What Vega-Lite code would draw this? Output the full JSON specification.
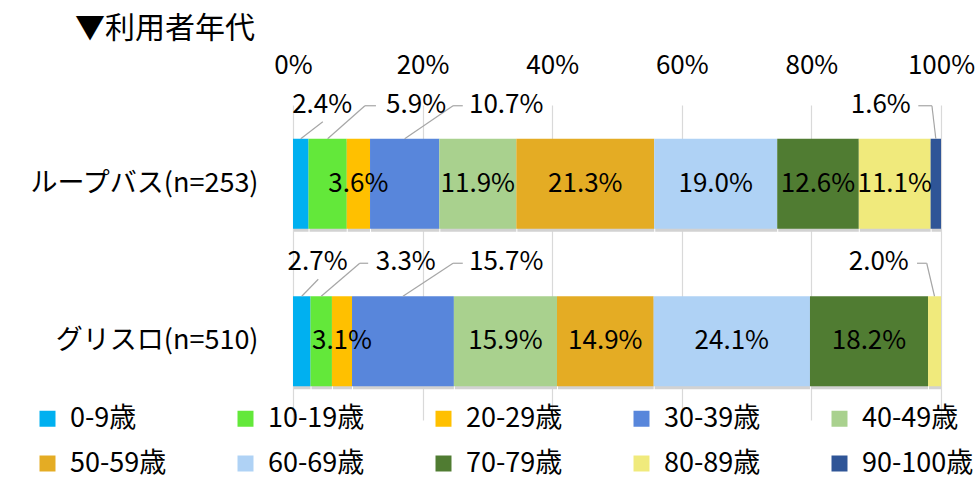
{
  "$schema": "https://vega.github.io/schema/vega-lite/v6.json",
  "width": 648,
  "height": 315,
  "autosize": "none",
  "padding": {"left": 293, "top": 105, "right": 34, "bottom": 61},
  "background": "white",
  "config": {
    "font": "Noto Sans CJK JP",
    "view": {"stroke": null},
    "axis": {"labelColor": "#000000", "labelFont": "Noto Sans CJK JP"}
  },
  "title": {
    "text": "▼利用者年代",
    "anchor": "start",
    "frame": "group",
    "fontSize": 30,
    "fontWeight": "normal",
    "color": "#000000",
    "dx": -218,
    "offset": 8
  },
  "data": {
    "values": [
      {"group": "ループバス(n=253)", "age": "0-9歳", "order": 1, "pct": 2.4, "pos": "out", "kind": "under", "elbow": 0.046, "hook": 0.046, "lx": 0.045},
      {"group": "ループバス(n=253)", "age": "10-19歳", "order": 2, "pct": 5.9, "pos": "out", "kind": "side", "elbow": 0.111, "hook": 0.128, "lx": 0.19},
      {"group": "ループバス(n=253)", "age": "20-29歳", "order": 3, "pct": 3.6, "pos": "in"},
      {"group": "ループバス(n=253)", "age": "30-39歳", "order": 4, "pct": 10.7, "pos": "out", "kind": "side", "elbow": 0.247, "hook": 0.262, "lx": 0.329},
      {"group": "ループバス(n=253)", "age": "40-49歳", "order": 5, "pct": 11.9, "pos": "in"},
      {"group": "ループバス(n=253)", "age": "50-59歳", "order": 6, "pct": 21.3, "pos": "in"},
      {"group": "ループバス(n=253)", "age": "60-69歳", "order": 7, "pct": 19.0, "pos": "in"},
      {"group": "ループバス(n=253)", "age": "70-79歳", "order": 8, "pct": 12.6, "pos": "in"},
      {"group": "ループバス(n=253)", "age": "80-89歳", "order": 9, "pct": 11.1, "pos": "in"},
      {"group": "ループバス(n=253)", "age": "90-100歳", "order": 10, "pct": 1.6, "pos": "out", "kind": "side", "elbow": 0.986, "hook": 0.965, "lx": 0.907},
      {"group": "グリスロ(n=510)", "age": "0-9歳", "order": 1, "pct": 2.7, "pos": "out", "kind": "under", "elbow": 0.039, "hook": 0.039, "lx": 0.038},
      {"group": "グリスロ(n=510)", "age": "10-19歳", "order": 2, "pct": 3.3, "pos": "out", "kind": "side", "elbow": 0.103, "hook": 0.116, "lx": 0.174},
      {"group": "グリスロ(n=510)", "age": "20-29歳", "order": 3, "pct": 3.1, "pos": "in"},
      {"group": "グリスロ(n=510)", "age": "30-39歳", "order": 4, "pct": 15.7, "pos": "out", "kind": "side", "elbow": 0.247, "hook": 0.262, "lx": 0.329},
      {"group": "グリスロ(n=510)", "age": "40-49歳", "order": 5, "pct": 15.9, "pos": "in"},
      {"group": "グリスロ(n=510)", "age": "50-59歳", "order": 6, "pct": 14.9, "pos": "in"},
      {"group": "グリスロ(n=510)", "age": "60-69歳", "order": 7, "pct": 24.1, "pos": "in"},
      {"group": "グリスロ(n=510)", "age": "70-79歳", "order": 8, "pct": 18.2, "pos": "in"},
      {"group": "グリスロ(n=510)", "age": "80-89歳", "order": 9, "pct": 2.0, "pos": "out", "kind": "side", "elbow": 0.978, "hook": 0.963, "lx": 0.904},
      {"group": "グリスロ(n=510)", "age": "90-100歳", "order": 10, "pct": 0, "pos": "none"}
    ]
  },
  "transform": [
    {"stack": "pct", "groupby": ["group"], "sort": [{"field": "order"}], "offset": "normalize", "as": ["x0", "x1"]},
    {"calculate": "(datum.x0 + datum.x1) / 2", "as": "mid"},
    {"calculate": "format(datum.pct, '.1f') + '%'", "as": "label"}
  ],
  "encoding": {
    "y": {
      "field": "group",
      "type": "nominal",
      "sort": ["ループバス(n=253)", "グリスロ(n=510)"],
      "scale": {"domain": ["ループバス(n=253)", "グリスロ(n=510)"], "paddingInner": 0.43, "paddingOuter": 0.215},
      "axis": {"title": null, "domain": false, "ticks": false, "tickSize": 0, "labelFontSize": 27, "labelPadding": 35, "labelLimit": 0, "grid": false}
    }
  },
  "layer": [
    {
      "transform": [{"filter": "datum.pct > 0"}],
      "mark": {"type": "bar", "color": "#D2D2D2", "yOffset": 3, "xOffset": 1},
      "encoding": {
        "x": {
          "field": "x0",
          "type": "quantitative",
          "scale": {"domain": [0, 1], "nice": false},
          "axis": {
            "orient": "top",
            "title": null,
            "format": ".0%",
            "values": [0, 0.2, 0.4, 0.6, 0.8, 1],
            "domain": false,
            "ticks": false,
            "tickSize": 0,
            "labelFontSize": 26,
            "labelPadding": 27,
            "labelFlush": false,
            "labelOverlap": false,
            "grid": true,
            "gridColor": "#D9D9D9",
            "gridWidth": 1.2
          }
        },
        "x2": {"field": "x1"}
      }
    },
    {
      "mark": {"type": "bar"},
      "encoding": {
        "x": {"field": "x0", "type": "quantitative"},
        "x2": {"field": "x1"},
        "color": {
          "field": "age",
          "type": "nominal",
          "scale": {
            "domain": ["0-9歳", "10-19歳", "20-29歳", "30-39歳", "40-49歳", "50-59歳", "60-69歳", "70-79歳", "80-89歳", "90-100歳"],
            "range": ["#00B0F0", "#63E83A", "#FFC000", "#5886DB", "#A9D18E", "#E4AC24", "#AFD2F5", "#507C32", "#F0EA7C", "#2F5597"]
          },
          "legend": {
            "title": null,
            "orient": "none",
            "legendX": -259,
            "legendY": 300,
            "direction": "horizontal",
            "columns": 5,
            "gridAlign": "all",
            "columnPadding": 50,
            "rowPadding": 17,
            "symbolType": "square",
            "symbolSize": 256,
            "symbolStrokeWidth": 0,
            "labelFontSize": 27,
            "labelColor": "#000000",
            "labelOffset": 9,
            "labelLimit": 0
          }
        }
      }
    },
    {
      "transform": [{"filter": "datum.pos == 'in'"}],
      "mark": {"type": "text", "fontSize": 26, "color": "#000000", "baseline": "middle", "align": "center"},
      "encoding": {
        "x": {"field": "mid", "type": "quantitative"},
        "text": {"field": "label"}
      }
    },
    {
      "transform": [{"filter": "datum.kind == 'side'"}],
      "mark": {"type": "rule", "color": "#A6A6A6", "strokeWidth": 1.2, "yOffset": -45, "y2Offset": -78},
      "encoding": {
        "x": {"field": "mid", "type": "quantitative"},
        "x2": {"field": "elbow"},
        "y2": {"field": "group"}
      }
    },
    {
      "transform": [{"filter": "datum.kind == 'side'"}],
      "mark": {"type": "rule", "color": "#A6A6A6", "strokeWidth": 1.2, "yOffset": -78, "y2Offset": -78},
      "encoding": {
        "x": {"field": "elbow", "type": "quantitative"},
        "x2": {"field": "hook"},
        "y2": {"field": "group"}
      }
    },
    {
      "transform": [{"filter": "datum.kind == 'under'"}],
      "mark": {"type": "rule", "color": "#A6A6A6", "strokeWidth": 1.2, "yOffset": -45, "y2Offset": -62},
      "encoding": {
        "x": {"field": "mid", "type": "quantitative"},
        "x2": {"field": "elbow"},
        "y2": {"field": "group"}
      }
    },
    {
      "transform": [{"filter": "datum.pos == 'out'"}],
      "mark": {"type": "text", "fontSize": 26, "color": "#000000", "baseline": "middle", "align": "center", "yOffset": -79},
      "encoding": {
        "x": {"field": "lx", "type": "quantitative"},
        "text": {"field": "label"}
      }
    }
  ]
}
